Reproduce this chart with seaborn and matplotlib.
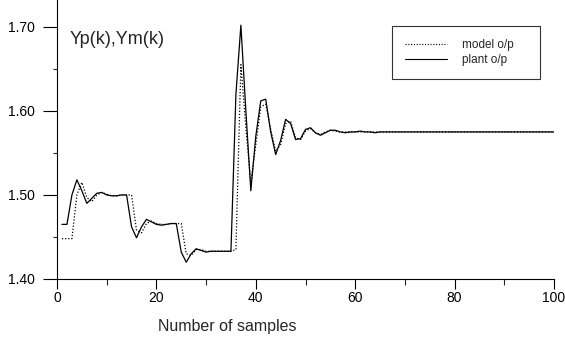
import pandas as pd
import matplotlib
matplotlib.use("Agg")
import matplotlib.pyplot as plt
import seaborn as sns
from matplotlib.ticker import MultipleLocator

# samples 1..100
plant = [1.465, 1.465, 1.500, 1.518, 1.505, 1.490, 1.496, 1.502, 1.503, 1.500,
         1.499, 1.499, 1.500, 1.500, 1.462, 1.449, 1.462, 1.471, 1.468, 1.465,
         1.464, 1.465, 1.466, 1.466, 1.432, 1.420, 1.430, 1.436, 1.434, 1.432,
         1.433, 1.433, 1.433, 1.433, 1.433, 1.620, 1.702, 1.600, 1.505, 1.570,
         1.612, 1.614, 1.575, 1.548, 1.565, 1.590, 1.585, 1.566, 1.567, 1.578,
         1.580, 1.574, 1.571, 1.574, 1.577, 1.577, 1.575, 1.574, 1.575, 1.575,
         1.576, 1.575, 1.575, 1.574, 1.575, 1.575, 1.575, 1.575, 1.575, 1.575,
         1.575, 1.575, 1.575, 1.575, 1.575, 1.575, 1.575, 1.575, 1.575, 1.575,
         1.575, 1.575, 1.575, 1.575, 1.575, 1.575, 1.575, 1.575, 1.575, 1.575,
         1.575, 1.575, 1.575, 1.575, 1.575, 1.575, 1.575, 1.575, 1.575, 1.575]

model = [1.448, 1.448, 1.448, 1.500, 1.515, 1.497, 1.492, 1.500, 1.503, 1.501,
         1.499, 1.499, 1.500, 1.500, 1.500, 1.458, 1.455, 1.466, 1.469, 1.466,
         1.465, 1.465, 1.466, 1.466, 1.466, 1.430, 1.428, 1.435, 1.435, 1.433,
         1.433, 1.433, 1.433, 1.433, 1.433, 1.435, 1.655, 1.580, 1.515, 1.560,
         1.605, 1.608, 1.578, 1.552, 1.560, 1.585, 1.588, 1.568, 1.566, 1.576,
         1.579, 1.574, 1.572, 1.575, 1.577, 1.576, 1.575, 1.575, 1.575, 1.575,
         1.575, 1.575, 1.575, 1.575, 1.575, 1.575, 1.575, 1.575, 1.575, 1.575,
         1.575, 1.575, 1.575, 1.575, 1.575, 1.575, 1.575, 1.575, 1.575, 1.575,
         1.575, 1.575, 1.575, 1.575, 1.575, 1.575, 1.575, 1.575, 1.575, 1.575,
         1.575, 1.575, 1.575, 1.575, 1.575, 1.575, 1.575, 1.575, 1.575, 1.575]

samples = list(range(1, len(plant) + 1))

df = pd.DataFrame({'k': samples * 2,
                   'y': model + plant,
                   'series': ['model o/p'] * len(model) + ['plant o/p'] * len(plant)})

sns.set_style("white")
plt.rcParams['font.family'] = ['Liberation Sans', 'DejaVu Sans']

fig = plt.figure(figsize=(5.65, 3.38), dpi=100)
ax = fig.add_axes([57 / 565, 1 - 279 / 338, 497 / 565, 279 / 338])

sns.lineplot(data=df, x='k', y='y', hue='series', style='series',
             palette=['black', 'black'], dashes=[(1, 1.5), ''],
             linewidth=0.9, ax=ax)

ax.set_xlim(0, 100)
ax.set_ylim(1.40, 1.732)
ax.xaxis.set_major_locator(MultipleLocator(20))
ax.xaxis.set_minor_locator(MultipleLocator(10))
ax.yaxis.set_major_locator(MultipleLocator(0.1))
ax.yaxis.set_minor_locator(MultipleLocator(0.05))
ax.yaxis.set_major_formatter(matplotlib.ticker.FormatStrFormatter('%.2f'))

for s in ['top', 'right']:
    ax.spines[s].set_visible(False)
for s in ['left', 'bottom']:
    ax.spines[s].set_color('black')
    ax.spines[s].set_linewidth(0.8)

ax.tick_params(axis='y', which='major', direction='out', length=10, width=0.8,
               left=True, labelsize=10, pad=6, colors='black')
ax.tick_params(axis='y', which='minor', direction='out', length=3, width=0.8, left=True)
ax.tick_params(axis='x', which='major', direction='out', length=7, width=0.8,
               bottom=True, labelsize=10, pad=2, colors='black')
ax.tick_params(axis='x', which='minor', direction='out', length=4, width=0.8, bottom=True)

ax.set_xlabel('Number of samples', fontsize=11.5)
ax.xaxis.set_label_coords(0.342, -0.145)
ax.set_ylabel('')

ax.text(0.026, 0.842, 'Yp(k),Ym(k)', transform=ax.transAxes, fontsize=13,
        ha='left', va='baseline')

leg = ax.legend(loc='upper left', bbox_to_anchor=(0.674, 0.713, 0.298, 0.194),
                mode='expand', frameon=True,
                fontsize=8.5, handlelength=3.6, borderpad=1.1, labelspacing=0.25,
                handletextpad=1.2, borderaxespad=0, fancybox=False)
leg.get_frame().set_edgecolor('black')
leg.get_frame().set_linewidth(0.8)
for h in leg.get_lines():
    h.set_linewidth(0.8)

fig.savefig('out.png', dpi=100)
